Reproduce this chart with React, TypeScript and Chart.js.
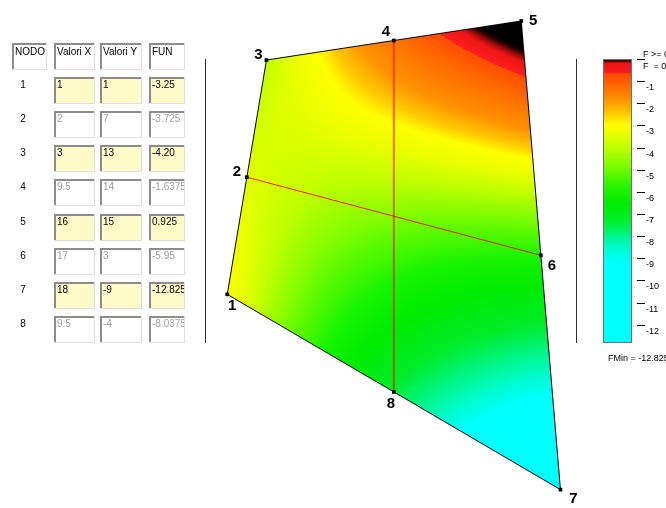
import { useEffect, useRef } from 'react';
import { Chart, registerables } from 'chart.js';

Chart.register(...registerables);

// ---------- data ----------
const NODE_LABELS = ['1', '2', '3', '4', '5', '6', '7', '8'];
const VALORI_X = [1, 2, 3, 9.5, 16, 17, 18, 9.5];
const VALORI_Y = [1, 7, 13, 14, 15, 3, -9, -4];
const FUN = [-3.25, -3.725, -4.2, -1.6375, 0.925, -5.95, -12.825, -8.0375];
const X_TEXT = ['1', '2', '3', '9.5', '16', '17', '18', '9.5'];
const Y_TEXT = ['1', '7', '13', '14', '15', '3', '-9', '-4'];
const FUN_TEXT = ['-3.25', '-3.725', '-4.20', '-1.6375', '0.925', '-5.95', '-12.825', '-8.0375'];
const INPUT_ROW = [true, false, true, false, true, false, true, false];
const HEADERS = ['NODO', 'Valori X', 'Valori Y', 'FUN'];
// natural coordinates of the 8 serendipity nodes
const XI = [-1, -1, -1, 0, 1, 1, 1, 0];
const ETA = [-1, 0, 1, 1, 1, 0, -1, -1];
const RED_LINES = [[3, 7], [1, 5]];
const CB_TICKS = [-1, -2, -3, -4, -5, -6, -7, -8, -9, -10, -11, -12];
const F_MIN = -12.825;
const F_ZERO_LABELS = ['F >= 0', 'F  = 0'];

// ---------- axis bounds / layout ----------
const X_MIN = -10.39, X_MAX = 23.18, Y_MIN = -9.736, Y_MAX = 15.87;
const LABEL_OFFSETS = [[5, 11], [-10, -5], [-8, -5], [-8, -9], [12, 0], [11, 11], [13, 9], [-3, 12]];

const FIELD_STOPS = [
  [-13, 0, 255, 255],
  [-10.0, 0, 255, 255],
  [-9.4, 0, 252, 205],
  [-8.7, 0, 245, 130],
  [-7.9, 0, 236, 40],
  [-6.8, 0, 236, 0],
  [-6, 25, 245, 0],
  [-5, 115, 252, 0],
  [-4.2, 190, 255, 0],
  [-3.6, 235, 255, 0],
  [-3.15, 255, 255, 0],
  [-2.8, 255, 200, 0],
  [-2.3, 255, 145, 0],
  [-1.5, 255, 112, 0],
  [-0.72, 255, 75, 0],
  [-0.7199, 255, 30, 30],
  [-0.32, 240, 20, 20],
  [-0.15, 150, 10, 10],
  [0.0, 40, 0, 0],
  [0.1, 0, 0, 0],
  [5, 0, 0, 0],
];

const BAR_STOPS = [
  [-13, 0, 255, 255],
  [-9.2, 0, 255, 255],
  [-8.6, 0, 252, 215],
  [-8.0, 0, 245, 140],
  [-7.3, 0, 238, 45],
  [-6.5, 0, 236, 0],
  [-5.8, 35, 245, 0],
  [-5, 110, 250, 0],
  [-4, 190, 255, 0],
  [-3.5, 225, 255, 0],
  [-3, 255, 255, 0],
  [-2.6, 255, 215, 0],
  [-2, 255, 160, 0],
  [-1, 255, 90, 0],
  [-0.65, 255, 70, 0],
  [-0.6499, 250, 30, 30],
  [-0.15, 235, 20, 20],
  [0.3, 0, 0, 0],
  [5, 0, 0, 0],
];

function cmap(stops: number[][], v: number): number[] {
  if (v <= stops[0][0]) return [stops[0][1], stops[0][2], stops[0][3]];
  for (let i = 1; i < stops.length; i++) {
    const s1 = stops[i];
    if (v <= s1[0]) {
      const s0 = stops[i - 1];
      const t = (v - s0[0]) / (s1[0] - s0[0]);
      return [s0[1] + (s1[1] - s0[1]) * t, s0[2] + (s1[2] - s0[2]) * t, s0[3] + (s1[3] - s0[3]) * t];
    }
  }
  const l = stops[stops.length - 1];
  return [l[1], l[2], l[3]];
}

function shape(a: number, b: number, N: number[], Da: number[], Db: number[]) {
  for (let i = 0; i < 8; i++) {
    const xi = XI[i], et = ETA[i];
    if (xi !== 0 && et !== 0) {
      N[i] = 0.25 * (1 + a * xi) * (1 + b * et) * (a * xi + b * et - 1);
      Da[i] = 0.25 * xi * (1 + b * et) * (2 * a * xi + b * et);
      Db[i] = 0.25 * et * (1 + a * xi) * (a * xi + 2 * b * et);
    } else if (xi === 0) {
      N[i] = 0.5 * (1 - a * a) * (1 + b * et);
      Da[i] = -a * (1 + b * et);
      Db[i] = 0.5 * (1 - a * a) * et;
    } else {
      N[i] = 0.5 * (1 + a * xi) * (1 - b * b);
      Da[i] = 0.5 * xi * (1 - b * b);
      Db[i] = -b * (1 + a * xi);
    }
  }
}

const fieldPlugin = {
  id: 'fefield',
  beforeDatasetsDraw(chart: any) {
    const ctx = chart.ctx;
    const xs = chart.scales.x, ys = chart.scales.y;
    const px = VALORI_X.map((v) => xs.getPixelForValue(v));
    const py = VALORI_Y.map((v) => ys.getPixelForValue(v));
    const x0 = Math.floor(Math.min(...px)) - 1, x1 = Math.ceil(Math.max(...px)) + 1;
    const y0 = Math.floor(Math.min(...py)) - 1, y1 = Math.ceil(Math.max(...py)) + 1;
    const w = x1 - x0 + 1, h = y1 - y0 + 1;
    const off = document.createElement('canvas');
    off.width = w; off.height = h;
    const octx = off.getContext('2d')!;
    const img = octx.createImageData(w, h);
    const N = new Array(8).fill(0), Da = new Array(8).fill(0), Db = new Array(8).fill(0);
    let a = 0, b = 0;
    for (let j = 0; j < h; j++) {
      const dy = ys.getValueForPixel(y0 + j + 0.5);
      for (let i = 0; i < w; i++) {
        const dx = xs.getValueForPixel(x0 + i + 0.5);
        if (!isFinite(a) || !isFinite(b) || Math.abs(a) > 3 || Math.abs(b) > 3) { a = 0; b = 0; }
        for (let it = 0; it < 15; it++) {
          shape(a, b, N, Da, Db);
          let X = 0, Y = 0, J11 = 0, J12 = 0, J21 = 0, J22 = 0;
          for (let k = 0; k < 8; k++) {
            X += N[k] * VALORI_X[k]; Y += N[k] * VALORI_Y[k];
            J11 += Da[k] * VALORI_X[k]; J12 += Db[k] * VALORI_X[k];
            J21 += Da[k] * VALORI_Y[k]; J22 += Db[k] * VALORI_Y[k];
          }
          const fx = X - dx, fy = Y - dy;
          const det = J11 * J22 - J12 * J21;
          if (Math.abs(det) < 1e-12) break;
          const da = (J22 * fx - J12 * fy) / det;
          const db = (-J21 * fx + J11 * fy) / det;
          a -= da; b -= db;
          if (Math.abs(da) + Math.abs(db) < 1e-10) break;
        }
        if (Math.abs(a) > 1.0005 || Math.abs(b) > 1.0005) continue;
        shape(a, b, N, Da, Db);
        let f = 0;
        for (let k = 0; k < 8; k++) f += N[k] * FUN[k];
        const c = cmap(FIELD_STOPS, f);
        const p = (j * w + i) * 4;
        img.data[p] = c[0]; img.data[p + 1] = c[1]; img.data[p + 2] = c[2]; img.data[p + 3] = 255;
      }
    }
    octx.putImageData(img, 0, 0);
    ctx.save();
    ctx.drawImage(off, x0, y0);
    ctx.restore();
  },
  afterDatasetsDraw(chart: any) {
    const ctx = chart.ctx;
    const xs = chart.scales.x, ys = chart.scales.y;
    ctx.save();
    ctx.fillStyle = '#000';
    ctx.font = 'bold 15px "Liberation Sans", Arial, sans-serif';
    ctx.textAlign = 'center';
    ctx.textBaseline = 'middle';
    NODE_LABELS.forEach((lab, i) => {
      const x = xs.getPixelForValue(VALORI_X[i]) + LABEL_OFFSETS[i][0];
      const y = ys.getPixelForValue(VALORI_Y[i]) + LABEL_OFFSETS[i][1];
      ctx.fillText(lab, x, y);
    });
    ctx.restore();
  },
};

// ---------- table, separators, colour bar ----------
const COL_X = [12, 54, 100, 149];
const COL_W = [35, 41, 42, 36];
const HEADER_Y = 43;
const BOX_H = 27;
const ROW_TOP = 77;
const ROW_STEP = 34.15;
const BAR_X = 603, BAR_W = 29, BAR_TOP = 59, BAR_BOTTOM = 343;

function drawBox(ctx: CanvasRenderingContext2D, x: number, y: number, w: number, h: number, fill: string) {
  ctx.fillStyle = fill;
  ctx.fillRect(x, y, w, h);
  ctx.fillStyle = '#8c8c8c';
  ctx.fillRect(x, y, w, 2);
  ctx.fillRect(x, y, 2, h);
  ctx.fillStyle = '#dedede';
  ctx.fillRect(x, y + h - 1, w, 1);
  ctx.fillRect(x + w - 1, y, 1, h);
}

function drawBoxText(ctx: CanvasRenderingContext2D, text: string, x: number, y: number, w: number, h: number, color: string) {
  ctx.save();
  ctx.beginPath();
  ctx.rect(x + 2, y + 2, w - 3, h - 3);
  ctx.clip();
  ctx.fillStyle = color;
  ctx.fillText(text, x + 3, y + 11);
  ctx.restore();
}

const decorPlugin = {
  id: 'decor',
  afterDraw(chart: any) {
    const ctx: CanvasRenderingContext2D = chart.ctx;
    ctx.save();
    ctx.font = '10px "Liberation Sans", Arial, sans-serif';
    ctx.textBaseline = 'alphabetic';
    ctx.textAlign = 'left';
    HEADERS.forEach((hd, c) => {
      drawBox(ctx, COL_X[c], HEADER_Y, COL_W[c], BOX_H, '#ffffff');
      drawBoxText(ctx, hd, COL_X[c], HEADER_Y + 1, COL_W[c], BOX_H, '#000');
    });
    NODE_LABELS.forEach((lab, r) => {
      const y = Math.round(ROW_TOP + r * ROW_STEP);
      ctx.fillStyle = '#000';
      ctx.textAlign = 'center';
      ctx.fillText(lab, 23, y + 11);
      ctx.textAlign = 'left';
      const fill = INPUT_ROW[r] ? '#fffbc8' : '#ffffff';
      const tc = INPUT_ROW[r] ? '#000000' : '#a0a0a0';
      const texts = [X_TEXT[r], Y_TEXT[r], FUN_TEXT[r]];
      for (let c = 1; c < 4; c++) {
        drawBox(ctx, COL_X[c], y, COL_W[c], BOX_H, fill);
        drawBoxText(ctx, texts[c - 1], COL_X[c], y, COL_W[c], BOX_H, tc);
      }
    });
    ctx.strokeStyle = '#303030';
    ctx.lineWidth = 1;
    ctx.beginPath();
    ctx.moveTo(205.5, BAR_TOP); ctx.lineTo(205.5, BAR_BOTTOM);
    ctx.moveTo(576.5, BAR_TOP); ctx.lineTo(576.5, BAR_BOTTOM);
    ctx.stroke();
    const H = BAR_BOTTOM - BAR_TOP;
    for (let r = 0; r < H; r++) {
      const v = -((r + 0.5) / H) * (0 - F_MIN);
      let c = cmap(BAR_STOPS, v);
      if (r < 4) {
        const t = r / 4;
        c = [c[0] * t, c[1] * t, c[2] * t];
      }
      ctx.fillStyle = `rgb(${Math.round(c[0])},${Math.round(c[1])},${Math.round(c[2])})`;
      ctx.fillRect(BAR_X, BAR_TOP + r, BAR_W, 1);
    }
    ctx.strokeStyle = '#707070';
    ctx.strokeRect(BAR_X + 0.5, BAR_TOP + 0.5, BAR_W - 1, H - 1);
    const yOf = (v: number) => BAR_TOP + ((0 - v) / (0 - F_MIN)) * H;
    ctx.font = '9px "Liberation Sans", Arial, sans-serif';
    ctx.fillStyle = '#000';
    ctx.strokeStyle = '#000';
    ctx.beginPath();
    [0, ...CB_TICKS].forEach((v) => {
      const y = Math.round(yOf(v)) + 0.5;
      ctx.moveTo(637, y); ctx.lineTo(645, y);
    });
    ctx.stroke();
    CB_TICKS.forEach((v) => {
      const y = Math.round(yOf(v));
      ctx.fillText(String(v), 646, y + 9);
    });
    ctx.fillText(F_ZERO_LABELS[0], 643, 57);
    ctx.fillText(F_ZERO_LABELS[1], 643, 69);
    ctx.fillText('FMin = ' + String(F_MIN), 608, 361);
    ctx.restore();
  },
};

export default function App() {
  const ref = useRef<HTMLCanvasElement | null>(null);
  useEffect(() => {
    if (!ref.current) return;
    const pts = VALORI_X.map((x, i) => ({ x, y: VALORI_Y[i] }));
    const boundary = [...pts, pts[0]];
    const chart = new Chart(ref.current, {
      type: 'scatter',
      data: {
        datasets: [
          {
            data: pts,
            pointStyle: 'rect',
            pointRadius: 2.6,
            backgroundColor: '#000',
            borderColor: '#000',
            borderWidth: 0,
            showLine: false,
          },
          {
            data: [pts[RED_LINES[0][0]], pts[RED_LINES[0][1]]],
            showLine: true,
            borderColor: 'rgba(255,0,0,0.55)',
            borderWidth: 2,
            pointRadius: 0,
          },
          {
            data: [pts[RED_LINES[1][0]], pts[RED_LINES[1][1]]],
            showLine: true,
            borderColor: 'rgba(255,0,0,0.9)',
            borderWidth: 1,
            pointRadius: 0,
          },
          {
            data: boundary,
            showLine: true,
            borderColor: '#000',
            borderWidth: 1,
            pointRadius: 0,
          },
        ],
      } as any,
      options: {
        animation: false,
        responsive: false,
        events: [],
        layout: { padding: 0 },
        scales: {
          x: { type: 'linear', min: X_MIN, max: X_MAX, display: false },
          y: { type: 'linear', min: Y_MIN, max: Y_MAX, display: false },
        },
        plugins: { legend: { display: false }, tooltip: { enabled: false } },
      } as any,
      plugins: [fieldPlugin, decorPlugin],
    });
    return () => chart.destroy();
  }, []);
  return (
    <div style={{ position: 'fixed', left: 0, top: 0, width: 666, height: 508, background: '#fff' }}>
      <canvas ref={ref} width={666} height={508} style={{ display: 'block', width: 666, height: 508 }} />
    </div>
  );
}
